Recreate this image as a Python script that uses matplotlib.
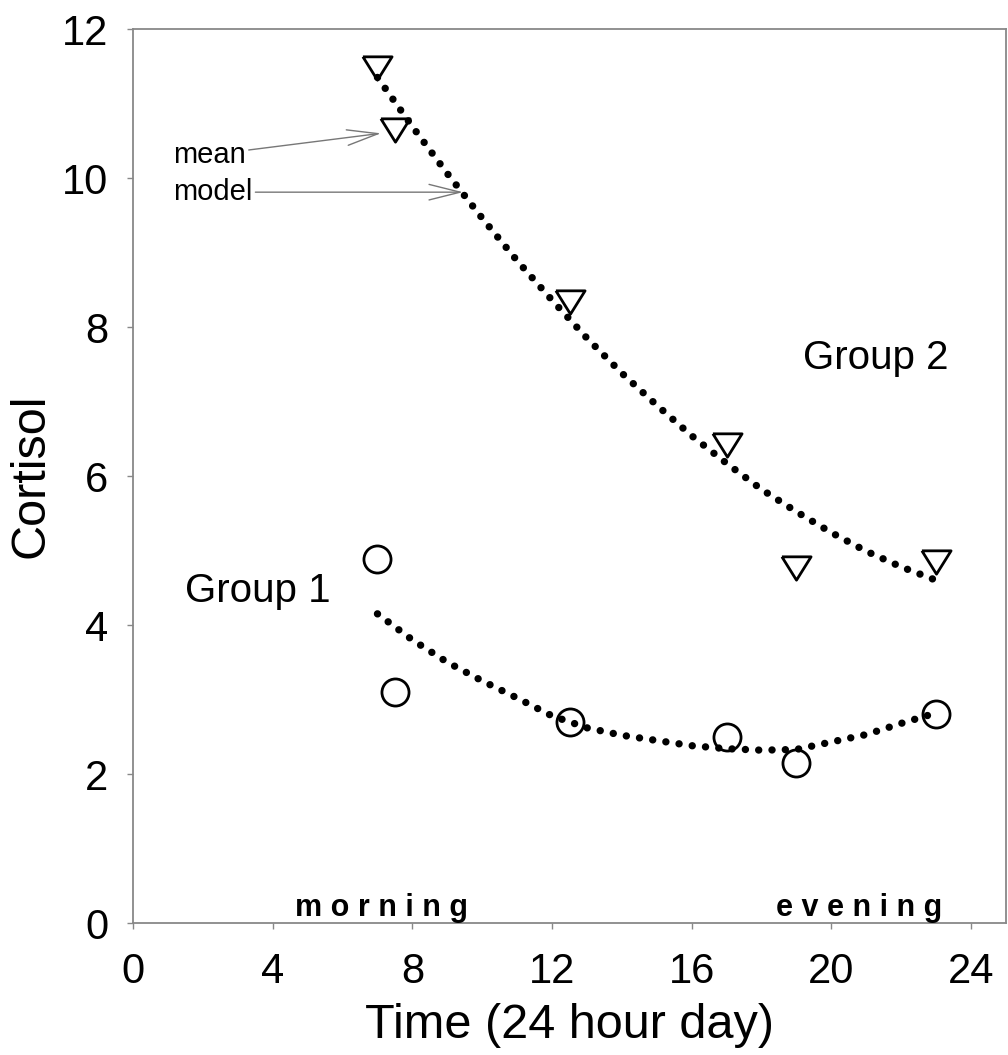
# cortisol over the day, two groups, means and model curves

import matplotlib.pyplot as plt

plt.rcParams['font.family'] = ['Liberation Sans', 'DejaVu Sans']

# observed means
hours = [7, 7.5, 12.5, 17, 19, 23]
group1_mean = [4.88, 3.10, 2.70, 2.50, 2.15, 2.81]
group2_mean = [11.48, 10.64, 8.34, 6.42, 4.77, 4.85]

# fitted model
model_hours = [7, 8, 9, 10, 11, 12, 13, 14, 15, 16, 17, 18, 19, 20, 21, 22, 23]
group1_model = [4.15, 3.80, 3.50, 3.25, 3.02, 2.78, 2.62, 2.52, 2.45, 2.38,
                2.34, 2.32, 2.33, 2.43, 2.53, 2.68, 2.82]
group2_model = [11.35, 10.69, 10.06, 9.46, 8.89, 8.36, 7.85, 7.38, 6.95, 6.54,
                6.17, 5.82, 5.52, 5.24, 4.99, 4.78, 4.60]

xticks = [0, 4, 8, 12, 16, 20, 24]
yticks = [0, 2, 4, 6, 8, 10, 12]

fig = plt.figure(figsize=(10.08, 10.55), dpi=100)
ax = fig.add_axes([0.132, 0.1251, 0.866, 0.8474])

dotted = dict(color='black', lw=5.3, linestyle=(0, (0.01, 1.8)),
              dash_capstyle='round')
ax.plot(model_hours, group1_model, **dotted)
ax.plot(model_hours, group2_model, **dotted)

tri = [(-1, 0.8), (1, 0.8), (0, -0.8), (-1, 0.8)]
ax.plot(hours, group1_mean, 'o', ms=19.5, mfc='none', mec='black', mew=2.0)
ax.plot(hours, group2_mean, marker=tri, ls='none', ms=21, mfc='none',
        mec='black', mew=2.0)

ax.set_xlim(0, 25)
ax.set_ylim(0, 12)
ax.set_xticks(xticks)
ax.set_yticks(yticks)
ax.tick_params(labelsize=30, length=4, width=1, color='#888888', pad=14)
ax.tick_params(axis='x', pad=17)
for s in ax.spines.values():
    s.set_color('#888888')
    s.set_linewidth(1.3)

ax.set_xlabel('Time (24 hour day)', fontsize=35, labelpad=8)
ax.set_ylabel('Cortisol', fontsize=35, labelpad=6)

ax.text(1.5, 4.46, 'Group 1', fontsize=29, va='center')
ax.text(19.2, 7.58, 'Group 2', fontsize=29, va='center')
ax.text(4.63, 0.1, 'm o r n i n g', fontsize=22, fontweight='bold')
ax.text(18.4, 0.1, 'e v e n i n g', fontsize=22, fontweight='bold')

arrow = dict(arrowstyle='->,head_length=1.6,head_width=0.4', color='#777777',
             lw=1, mutation_scale=14, shrinkA=0, shrinkB=0)
ax.annotate('mean', xy=(7.1, 10.6), xytext=(1.15, 10.31), fontsize=21,
            va='center', arrowprops=arrow)
ax.annotate('model', xy=(9.45, 9.81), xytext=(1.15, 9.81), fontsize=21,
            va='center', arrowprops=arrow)

fig.savefig('out.png', dpi=100)
